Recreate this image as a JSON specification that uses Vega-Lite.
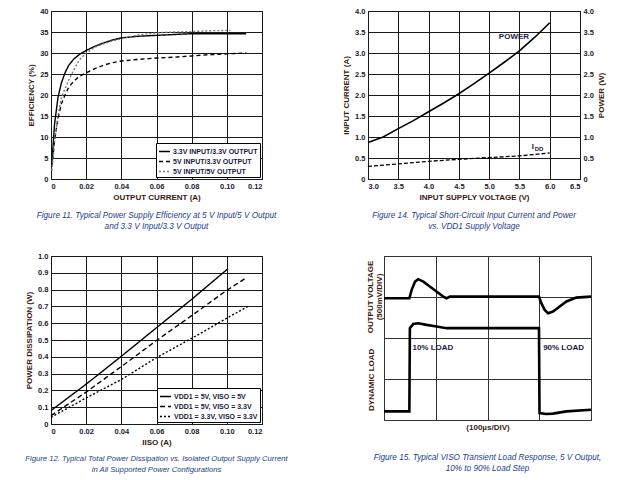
{
  "$schema": "https://vega.github.io/schema/vega-lite/v6.json",
  "background": "white",
  "padding": {"left": 24, "top": 6, "right": 4, "bottom": 4},
  "config": {
    "font": "Liberation Sans",
    "view": {"stroke": "#000", "strokeWidth": 1},
    "axis": {"labelFontWeight": "bold", "labelFontSize": 7.5, "labelColor": "#1a1a2e", "labelOverlap": false, "titleFontSize": 8, "titleFontWeight": "bold", "titleColor": "#3a1a10", "gridColor": "#1a1a1a", "gridOpacity": 1, "gridWidth": 1, "ticks": false, "domain": false, "labelPadding": 3, "titlePadding": 4},
    "legend": {"fillColor": "white", "strokeColor": "#000", "padding": 2, "symbolType": "stroke", "symbolSize": 121, "symbolStrokeWidth": 1.5, "labelFontSize": 7, "labelFontWeight": "bold", "labelColor": "#1a1a40", "rowPadding": 0, "offset": 2, "labelOffset": 2},
    "title": {"orient": "bottom", "fontStyle": "italic", "fontWeight": "normal", "fontSize": 8.2, "color": "#23408e", "anchor": "middle", "frame": "group", "lineHeight": 11}
  },
  "datasets": {
    "fig11": [
      {"i": 0.0005, "eff": 4, "cfg": "3.3V INPUT/3.3V OUTPUT"},
      {"i": 0.002, "eff": 13, "cfg": "3.3V INPUT/3.3V OUTPUT"},
      {"i": 0.004, "eff": 19.5, "cfg": "3.3V INPUT/3.3V OUTPUT"},
      {"i": 0.006, "eff": 23, "cfg": "3.3V INPUT/3.3V OUTPUT"},
      {"i": 0.008, "eff": 25.3, "cfg": "3.3V INPUT/3.3V OUTPUT"},
      {"i": 0.010, "eff": 27, "cfg": "3.3V INPUT/3.3V OUTPUT"},
      {"i": 0.013, "eff": 28.6, "cfg": "3.3V INPUT/3.3V OUTPUT"},
      {"i": 0.016, "eff": 29.6, "cfg": "3.3V INPUT/3.3V OUTPUT"},
      {"i": 0.020, "eff": 30.6, "cfg": "3.3V INPUT/3.3V OUTPUT"},
      {"i": 0.025, "eff": 31.6, "cfg": "3.3V INPUT/3.3V OUTPUT"},
      {"i": 0.030, "eff": 32.4, "cfg": "3.3V INPUT/3.3V OUTPUT"},
      {"i": 0.035, "eff": 33.1, "cfg": "3.3V INPUT/3.3V OUTPUT"},
      {"i": 0.040, "eff": 33.6, "cfg": "3.3V INPUT/3.3V OUTPUT"},
      {"i": 0.050, "eff": 34.0, "cfg": "3.3V INPUT/3.3V OUTPUT"},
      {"i": 0.060, "eff": 34.2, "cfg": "3.3V INPUT/3.3V OUTPUT"},
      {"i": 0.070, "eff": 34.4, "cfg": "3.3V INPUT/3.3V OUTPUT"},
      {"i": 0.080, "eff": 34.6, "cfg": "3.3V INPUT/3.3V OUTPUT"},
      {"i": 0.090, "eff": 34.6, "cfg": "3.3V INPUT/3.3V OUTPUT"},
      {"i": 0.100, "eff": 34.6, "cfg": "3.3V INPUT/3.3V OUTPUT"},
      {"i": 0.111, "eff": 34.6, "cfg": "3.3V INPUT/3.3V OUTPUT"},
      {"i": 0.0005, "eff": 3, "cfg": "5V INPUT/3.3V OUTPUT"},
      {"i": 0.002, "eff": 9, "cfg": "5V INPUT/3.3V OUTPUT"},
      {"i": 0.004, "eff": 14.5, "cfg": "5V INPUT/3.3V OUTPUT"},
      {"i": 0.006, "eff": 18, "cfg": "5V INPUT/3.3V OUTPUT"},
      {"i": 0.008, "eff": 20, "cfg": "5V INPUT/3.3V OUTPUT"},
      {"i": 0.010, "eff": 21.8, "cfg": "5V INPUT/3.3V OUTPUT"},
      {"i": 0.013, "eff": 23.3, "cfg": "5V INPUT/3.3V OUTPUT"},
      {"i": 0.016, "eff": 24.4, "cfg": "5V INPUT/3.3V OUTPUT"},
      {"i": 0.020, "eff": 25.3, "cfg": "5V INPUT/3.3V OUTPUT"},
      {"i": 0.025, "eff": 26.3, "cfg": "5V INPUT/3.3V OUTPUT"},
      {"i": 0.030, "eff": 27.1, "cfg": "5V INPUT/3.3V OUTPUT"},
      {"i": 0.035, "eff": 27.7, "cfg": "5V INPUT/3.3V OUTPUT"},
      {"i": 0.040, "eff": 28.1, "cfg": "5V INPUT/3.3V OUTPUT"},
      {"i": 0.050, "eff": 28.5, "cfg": "5V INPUT/3.3V OUTPUT"},
      {"i": 0.060, "eff": 28.8, "cfg": "5V INPUT/3.3V OUTPUT"},
      {"i": 0.070, "eff": 29.0, "cfg": "5V INPUT/3.3V OUTPUT"},
      {"i": 0.080, "eff": 29.3, "cfg": "5V INPUT/3.3V OUTPUT"},
      {"i": 0.090, "eff": 29.6, "cfg": "5V INPUT/3.3V OUTPUT"},
      {"i": 0.100, "eff": 29.8, "cfg": "5V INPUT/3.3V OUTPUT"},
      {"i": 0.111, "eff": 30.0, "cfg": "5V INPUT/3.3V OUTPUT"},
      {"i": 0.0005, "eff": 2, "cfg": "5V INPUT/5V OUTPUT"},
      {"i": 0.002, "eff": 9, "cfg": "5V INPUT/5V OUTPUT"},
      {"i": 0.004, "eff": 15, "cfg": "5V INPUT/5V OUTPUT"},
      {"i": 0.006, "eff": 19.5, "cfg": "5V INPUT/5V OUTPUT"},
      {"i": 0.008, "eff": 21.5, "cfg": "5V INPUT/5V OUTPUT"},
      {"i": 0.010, "eff": 23.5, "cfg": "5V INPUT/5V OUTPUT"},
      {"i": 0.013, "eff": 26, "cfg": "5V INPUT/5V OUTPUT"},
      {"i": 0.016, "eff": 28.3, "cfg": "5V INPUT/5V OUTPUT"},
      {"i": 0.020, "eff": 30, "cfg": "5V INPUT/5V OUTPUT"},
      {"i": 0.025, "eff": 31.4, "cfg": "5V INPUT/5V OUTPUT"},
      {"i": 0.030, "eff": 32.2, "cfg": "5V INPUT/5V OUTPUT"},
      {"i": 0.035, "eff": 32.9, "cfg": "5V INPUT/5V OUTPUT"},
      {"i": 0.040, "eff": 33.4, "cfg": "5V INPUT/5V OUTPUT"},
      {"i": 0.050, "eff": 34.3, "cfg": "5V INPUT/5V OUTPUT"},
      {"i": 0.060, "eff": 34.8, "cfg": "5V INPUT/5V OUTPUT"},
      {"i": 0.070, "eff": 35.0, "cfg": "5V INPUT/5V OUTPUT"},
      {"i": 0.080, "eff": 35.1, "cfg": "5V INPUT/5V OUTPUT"},
      {"i": 0.090, "eff": 35.3, "cfg": "5V INPUT/5V OUTPUT"},
      {"i": 0.102, "eff": 35.4, "cfg": "5V INPUT/5V OUTPUT"}
    ],
    "fig14_power": [
      {"v": 3.0, "y": 0.87}, {"v": 3.25, "y": 1.0}, {"v": 3.5, "y": 1.2}, {"v": 3.75, "y": 1.39},
      {"v": 4.0, "y": 1.6}, {"v": 4.25, "y": 1.81}, {"v": 4.5, "y": 2.03}, {"v": 4.75, "y": 2.27},
      {"v": 5.0, "y": 2.52}, {"v": 5.25, "y": 2.78}, {"v": 5.5, "y": 3.05}, {"v": 5.75, "y": 3.37},
      {"v": 6.0, "y": 3.72}
    ],
    "fig14_idd": [
      {"v": 3.0, "y": 0.3}, {"v": 3.5, "y": 0.36}, {"v": 4.0, "y": 0.42}, {"v": 4.5, "y": 0.47},
      {"v": 5.0, "y": 0.51}, {"v": 5.5, "y": 0.55}, {"v": 6.0, "y": 0.62}
    ],
    "fig12": [
      {"iiso": 0.0, "pd": 0.08, "cfg": "VDD1 = 5V, VISO = 5V"},
      {"iiso": 0.02, "pd": 0.237, "cfg": "VDD1 = 5V, VISO = 5V"},
      {"iiso": 0.04, "pd": 0.403, "cfg": "VDD1 = 5V, VISO = 5V"},
      {"iiso": 0.06, "pd": 0.573, "cfg": "VDD1 = 5V, VISO = 5V"},
      {"iiso": 0.08, "pd": 0.742, "cfg": "VDD1 = 5V, VISO = 5V"},
      {"iiso": 0.1007, "pd": 0.925, "cfg": "VDD1 = 5V, VISO = 5V"},
      {"iiso": 0.0, "pd": 0.05, "cfg": "VDD1 = 5V, VISO = 3.3V"},
      {"iiso": 0.02, "pd": 0.19, "cfg": "VDD1 = 5V, VISO = 3.3V"},
      {"iiso": 0.04, "pd": 0.342, "cfg": "VDD1 = 5V, VISO = 3.3V"},
      {"iiso": 0.06, "pd": 0.497, "cfg": "VDD1 = 5V, VISO = 3.3V"},
      {"iiso": 0.08, "pd": 0.645, "cfg": "VDD1 = 5V, VISO = 3.3V"},
      {"iiso": 0.10, "pd": 0.796, "cfg": "VDD1 = 5V, VISO = 3.3V"},
      {"iiso": 0.1115, "pd": 0.873, "cfg": "VDD1 = 5V, VISO = 3.3V"},
      {"iiso": 0.0, "pd": 0.04, "cfg": "VDD1 = 3.3V, VISO = 3.3V"},
      {"iiso": 0.02, "pd": 0.155, "cfg": "VDD1 = 3.3V, VISO = 3.3V"},
      {"iiso": 0.04, "pd": 0.265, "cfg": "VDD1 = 3.3V, VISO = 3.3V"},
      {"iiso": 0.06, "pd": 0.395, "cfg": "VDD1 = 3.3V, VISO = 3.3V"},
      {"iiso": 0.08, "pd": 0.51, "cfg": "VDD1 = 3.3V, VISO = 3.3V"},
      {"iiso": 0.10, "pd": 0.63, "cfg": "VDD1 = 3.3V, VISO = 3.3V"},
      {"iiso": 0.112, "pd": 0.70, "cfg": "VDD1 = 3.3V, VISO = 3.3V"}
    ],
    "fig15": [
      {"t": 0.0, "d": 5.94, "trace": "VOUT"}, {"t": 0.98, "d": 5.94, "trace": "VOUT"},
      {"t": 1.07, "d": 6.35, "trace": "VOUT"}, {"t": 1.2, "d": 6.75, "trace": "VOUT"},
      {"t": 1.32, "d": 6.87, "trace": "VOUT"}, {"t": 1.52, "d": 6.75, "trace": "VOUT"},
      {"t": 1.77, "d": 6.51, "trace": "VOUT"}, {"t": 2.03, "d": 6.27, "trace": "VOUT"},
      {"t": 2.29, "d": 6.02, "trace": "VOUT"}, {"t": 2.42, "d": 5.94, "trace": "VOUT"},
      {"t": 2.55, "d": 6.02, "trace": "VOUT"}, {"t": 5.99, "d": 6.02, "trace": "VOUT"},
      {"t": 6.08, "d": 5.7, "trace": "VOUT"}, {"t": 6.21, "d": 5.37, "trace": "VOUT"},
      {"t": 6.34, "d": 5.21, "trace": "VOUT"}, {"t": 6.53, "d": 5.29, "trace": "VOUT"},
      {"t": 6.79, "d": 5.54, "trace": "VOUT"}, {"t": 7.05, "d": 5.78, "trace": "VOUT"},
      {"t": 7.43, "d": 5.97, "trace": "VOUT"}, {"t": 8.0, "d": 6.02, "trace": "VOUT"},
      {"t": 0.0, "d": 0.42, "trace": "LOAD"}, {"t": 0.98, "d": 0.42, "trace": "LOAD"},
      {"t": 1.0, "d": 4.48, "trace": "LOAD"}, {"t": 1.13, "d": 4.68, "trace": "LOAD"},
      {"t": 1.32, "d": 4.72, "trace": "LOAD"}, {"t": 1.65, "d": 4.64, "trace": "LOAD"},
      {"t": 2.03, "d": 4.56, "trace": "LOAD"}, {"t": 2.42, "d": 4.48, "trace": "LOAD"},
      {"t": 5.99, "d": 4.48, "trace": "LOAD"}, {"t": 6.01, "d": 0.34, "trace": "LOAD"},
      {"t": 6.27, "d": 0.29, "trace": "LOAD"}, {"t": 6.53, "d": 0.31, "trace": "LOAD"},
      {"t": 7.05, "d": 0.42, "trace": "LOAD"}, {"t": 8.0, "d": 0.5, "trace": "LOAD"}
    ]
  },
  "spacing": 20,
  "resolve": {"scale": {"color": "independent", "strokeDash": "independent"}, "legend": {"color": "independent", "strokeDash": "independent"}},
  "vconcat": [
    {
      "spacing": 65,
      "resolve": {"scale": {"color": "independent", "strokeDash": "independent"}, "legend": {"color": "independent", "strokeDash": "independent"}},
      "hconcat": [
        {
          "width": 211, "height": 168,
          "title": {"text": ["Figure 11. Typical Power Supply Efficiency at 5 V Input/5 V Output", "and 3.3 V Input/3.3 V Output"], "offset": 10},
          "data": {"name": "fig11"},
          "mark": {"type": "line", "strokeWidth": 1.4},
          "encoding": {
            "x": {"field": "i", "type": "quantitative", "scale": {"domain": [0, 0.12], "nice": false}, "axis": {"values": [0, 0.02, 0.04, 0.06, 0.08, 0.1, 0.12], "labelExpr": "datum.value == 0 ? '0' : format(datum.value, '.2f')", "title": "OUTPUT CURRENT (A)"}},
            "y": {"field": "eff", "type": "quantitative", "scale": {"domain": [0, 40], "nice": false}, "axis": {"values": [0, 5, 10, 15, 20, 25, 30, 35, 40], "title": "EFFICIENCY (%)"}},
            "color": {"field": "cfg", "type": "nominal", "scale": {"domain": ["3.3V INPUT/3.3V OUTPUT", "5V INPUT/3.3V OUTPUT", "5V INPUT/5V OUTPUT"], "range": ["#000000", "#000000", "#777777"]}, "legend": {"title": null, "orient": "bottom-right"}},
            "strokeDash": {"field": "cfg", "type": "nominal", "scale": {"domain": ["3.3V INPUT/3.3V OUTPUT", "5V INPUT/3.3V OUTPUT", "5V INPUT/5V OUTPUT"], "range": [[1, 0], [4, 3], [2, 2]]}, "legend": {"title": null, "orient": "bottom-right"}}
          }
        },
        {
          "width": 212, "height": 168,
          "title": {"text": ["Figure 14. Typical Short-Circuit Input Current and Power", "vs. VDD1 Supply Voltage"], "offset": 10},
          "encoding": {
            "x": {"field": "v", "type": "quantitative", "scale": {"domain": [3, 6.5], "nice": false}, "axis": {"values": [3, 3.5, 4, 4.5, 5, 5.5, 6, 6.5], "format": ".1f", "title": "INPUT SUPPLY VOLTAGE (V)"}}
          },
          "layer": [
            {
              "encoding": {
                "y": {"field": "y", "type": "quantitative", "scale": {"domain": [0, 4], "nice": false}, "axis": {"grid": true, "values": [0, 0.5, 1, 1.5, 2, 2.5, 3, 3.5, 4], "labelExpr": "datum.value == 0 ? '0' : format(datum.value, '.1f')", "title": "INPUT CURRENT (A)"}}
              },
              "layer": [
                {
                  "data": {"name": "fig14_idd"},
                  "mark": {"type": "line", "color": "#000", "strokeWidth": 1.3, "strokeDash": [4, 2]}
                },
                {
                  "data": {"values": [{"v": 5.72, "y": 0.76, "t": "I"}]},
                  "mark": {"type": "text", "fontSize": 8, "fontWeight": "bold", "color": "#1a1a40", "align": "center", "baseline": "middle"},
                  "encoding": {"text": {"field": "t"}}
                },
                {
                  "data": {"values": [{"v": 5.72, "y": 0.76, "t": "DD"}]},
                  "mark": {"type": "text", "fontSize": 6, "fontWeight": "bold", "color": "#1a1a40", "align": "left", "baseline": "middle", "dx": 2, "dy": 2},
                  "encoding": {"text": {"field": "t"}}
                }
              ]
            },
            {
              "encoding": {
                "y": {"field": "y", "type": "quantitative", "scale": {"domain": [0, 4], "nice": false}, "axis": {"orient": "right", "grid": false, "values": [0, 0.5, 1, 1.5, 2, 2.5, 3, 3.5, 4], "labelExpr": "datum.value == 0 ? '0' : format(datum.value, '.1f')", "title": "POWER (W)", "titleAngle": 270, "titleBaseline": "top"}}
              },
              "layer": [
                {
                  "data": {"name": "fig14_power"},
                  "mark": {"type": "line", "color": "#000", "strokeWidth": 1.6}
                },
                {
                  "data": {"values": [{"v": 5.41, "y": 3.38, "t": "POWER"}]},
                  "mark": {"type": "text", "fontSize": 8, "fontWeight": "bold", "color": "#1a1a40", "align": "center", "baseline": "middle"},
                  "encoding": {"text": {"field": "t"}}
                }
              ]
            }
          ],
          "resolve": {"scale": {"y": "independent"}}
        }
      ]
    },
    {
      "spacing": 77,
      "resolve": {"scale": {"color": "independent", "strokeDash": "independent"}, "legend": {"color": "independent", "strokeDash": "independent"}},
      "hconcat": [
        {
          "width": 211, "height": 168,
          "title": {"text": ["Figure 12. Typical Total Power Dissipation vs. Isolated Output Supply Current", "in All Supported Power Configurations"], "offset": 8, "fontSize": 7.7},
          "data": {"name": "fig12"},
          "mark": {"type": "line", "strokeWidth": 1.4, "color": "#000"},
          "encoding": {
            "x": {"field": "iiso", "type": "quantitative", "scale": {"domain": [0, 0.12], "nice": false}, "axis": {"values": [0, 0.02, 0.04, 0.06, 0.08, 0.1, 0.12], "labelExpr": "datum.value == 0 ? '0' : format(datum.value, '.2f')", "title": "IISO (A)"}},
            "y": {"field": "pd", "type": "quantitative", "scale": {"domain": [0, 1], "nice": false}, "axis": {"values": [0, 0.1, 0.2, 0.3, 0.4, 0.5, 0.6, 0.7, 0.8, 0.9, 1.0], "labelExpr": "datum.value == 0 ? '0' : format(datum.value, '.1f')", "title": "POWER DISSIPATION (W)"}},
            "strokeDash": {"field": "cfg", "type": "nominal", "scale": {"domain": ["VDD1 = 5V, VISO = 5V", "VDD1 = 5V, VISO = 3.3V", "VDD1 = 3.3V, VISO = 3.3V"], "range": [[1, 0], [5, 3], [2, 2]]}, "legend": {"title": null, "orient": "bottom-right", "symbolStrokeColor": "#000"}}
          }
        },
        {
          "width": 207, "height": 164,
          "title": {"text": ["Figure 15. Typical VISO Transient Load Response, 5 V Output,", "10% to 90% Load Step"], "offset": 23},
          "layer": [
            {
              "data": {"name": "fig15"},
              "mark": {"type": "line", "color": "#000", "strokeWidth": 2.6},
              "encoding": {
                "x": {"field": "t", "type": "quantitative", "scale": {"domain": [0, 8], "nice": false}, "axis": {"values": [0, 1, 2, 3, 4, 5, 6, 7, 8], "labels": false, "title": "(100µs/DIV)", "titlePadding": 3, "gridColor": "#333"}},
                "y": {"field": "d", "type": "quantitative", "scale": {"domain": [0, 8], "nice": false}, "axis": {"values": [0, 1, 2, 3, 4, 5, 6, 7, 8], "labels": false, "title": null, "gridColor": "#333"}},
                "detail": {"field": "trace"}
              }
            },
            {
              "data": {"values": [{"t": 1.1, "d": 3.5, "lab": "10% LOAD"}, {"t": 6.15, "d": 3.5, "lab": "90% LOAD"}]},
              "mark": {"type": "text", "fontSize": 8, "fontWeight": "bold", "color": "#1a1a40", "align": "left", "baseline": "middle"},
              "encoding": {
                "x": {"field": "t", "type": "quantitative"},
                "y": {"field": "d", "type": "quantitative"},
                "text": {"field": "lab"}
              }
            },
            {
              "data": {"values": [{"t": -0.5, "d": 6.0, "lab": "OUTPUT VOLTAGE\n(500mV/DIV)"}, {"t": -0.45, "d": 1.96, "lab": "DYNAMIC LOAD"}]},
              "mark": {"type": "text", "fontSize": 8, "fontWeight": "bold", "color": "#3a1a10", "align": "center", "baseline": "middle", "angle": 270, "lineBreak": "\n", "lineHeight": 9},
              "encoding": {
                "x": {"field": "t", "type": "quantitative"},
                "y": {"field": "d", "type": "quantitative"},
                "text": {"field": "lab"}
              }
            }
          ]
        }
      ]
    }
  ]
}
